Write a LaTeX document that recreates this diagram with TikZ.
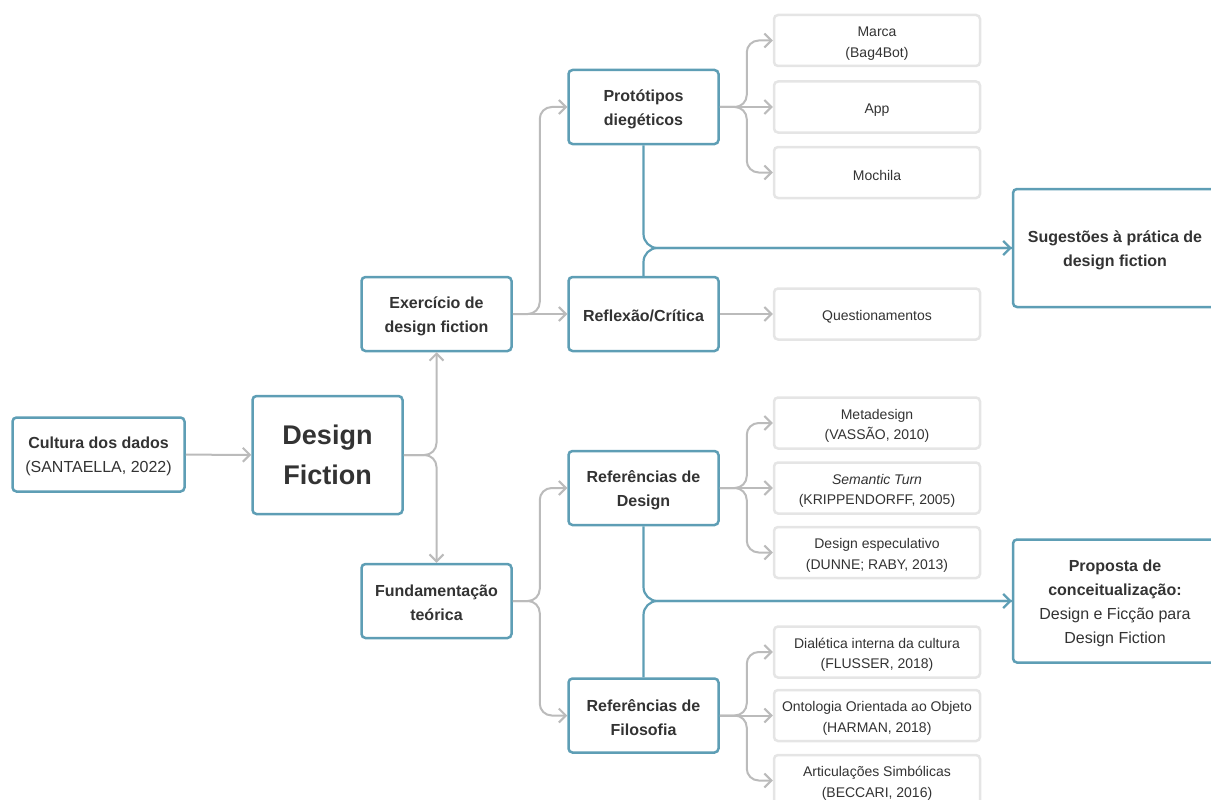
\documentclass[tikz,border=0pt]{standalone}
\usepackage{fontspec}
\setmainfont{Liberation Sans}
\usetikzlibrary{arrows.meta}
\definecolor{bl}{RGB}{94,158,181}
\definecolor{gr}{RGB}{187,187,187}
\definecolor{lg}{RGB}{229,229,229}
\definecolor{tx}{RGB}{51,51,51}
\newcommand{\tsx}{\rule{0pt}{16pt}}
\begin{document}
\begin{tikzpicture}[x=1pt,y=-1pt,
 bbox/.style={draw=bl, line width=2.5pt, rounded corners=4pt, fill=white, text=tx, align=center, minimum width=150pt, minimum height=74pt, inner sep=0pt, font=\fontsize{16}{24}\selectfont\bfseries},
 leaf/.style={draw=lg, line width=2.5pt, rounded corners=4pt, fill=white, text=tx, align=center, minimum width=206pt, minimum height=51pt, inner sep=0pt, font=\fontsize{14}{20.5}\selectfont},
 gconn/.style={draw=gr, line width=2pt, rounded corners=12pt, -{Straight Barb[length=7pt,width=14pt]}},
 bconn/.style={draw=bl, line width=2.2pt, rounded corners=14pt, -{Straight Barb[length=7pt,width=14pt]}},
]
\useasboundingbox (0,0) rectangle (1211,800);
% main nodes
\node[bbox, minimum width=172pt] (cul) at (98.5,454.5) {\tsx Cultura dos dados\\{\mdseries (SANTAELLA, 2022)}};
\node[bbox, minimum height=118pt, font=\fontsize{27}{40}\selectfont\bfseries] (df) at (327.5,455) {Design\\Fiction};
\node[bbox] (ex) at (436.5,314) {\tsx Exercício de\\design fiction};
\node[bbox] (fu) at (436.5,601) {\tsx Fundamentação\\teórica};
\node[bbox] (pr) at (643.5,107) {\tsx Protótipos\\diegéticos};
\node[bbox] (re) at (643.5,314) {\tsx Reflexão/Crítica};
\node[bbox] (rd) at (643.5,488) {\tsx Referências de\\Design};
\node[bbox] (rf) at (643.5,715.5) {\tsx Referências de\\Filosofia};
\node[bbox, minimum width=204pt, minimum height=118pt] (sug) at (1115,248) {\tsx Sugestões à prática de\\design fiction};
\node[bbox, minimum width=204pt, minimum height=123pt] (prop) at (1115,601) {\tsx Proposta de\\conceitualização:\\{\mdseries Design e Ficção para}\\{\mdseries Design Fiction}};
% leaves
\node[leaf] (ma) at (877,40.5) {\tsx Marca\\(Bag4Bot)};
\node[leaf] (ap) at (877,107) {\tsx App};
\node[leaf] (mo) at (877,172.5) {\tsx Mochila};
\node[leaf] (qu) at (877,314) {\tsx Questionamentos};
\node[leaf] (me) at (877,423) {\tsx Metadesign\\(VASSÃO, 2010)};
\node[leaf] (se) at (877,488) {\tsx\itshape Semantic Turn\\(KRIPPENDORFF, 2005)};
\node[leaf] (de) at (877,552.5) {\tsx Design especulativo\\(DUNNE; RABY, 2013)};
\node[leaf] (di) at (877,652) {\tsx Dialética interna da cultura\\(FLUSSER, 2018)};
\node[leaf] (on) at (877,715.5) {\tsx Ontologia Orientada ao Objeto\\(HARMAN, 2018)};
\node[leaf] (ar) at (877,780.5) {\tsx Articulações Simbólicas\\(BECCARI, 2016)};
% gray connectors
\draw[gconn] (cul) -- (df);
\draw[gconn] (df.east) -| (ex.south);
\draw[gconn] (df.east) -| (fu.north);
\draw[gconn] (ex.east) -- ++(27,0) |- (pr.west);
\draw[gconn] (ex) -- (re);
\draw[gconn] (fu.east) -- ++(27,0) |- (rd.west);
\draw[gconn] (fu.east) -- ++(27,0) |- (rf.west);
\draw[gconn] (pr.east) -- ++(27,0) |- (ma.west);
\draw[gconn] (pr) -- (ap);
\draw[gconn] (pr.east) -- ++(27,0) |- (mo.west);
\draw[gconn] (re) -- (qu);
\draw[gconn] (rd.east) -- ++(27,0) |- (me.west);
\draw[gconn] (rd) -- (se);
\draw[gconn] (rd.east) -- ++(27,0) |- (de.west);
\draw[gconn] (rf.east) -- ++(27,0) |- (di.west);
\draw[gconn] (rf) -- (on);
\draw[gconn] (rf.east) -- ++(27,0) |- (ar.west);
% blue connectors
\draw[bconn] (pr.south) |- (sug.west);
\draw[bconn, -] (re.north) |- (sug.west);
\draw[bconn] (rd.south) |- (prop.west);
\draw[bconn, -] (rf.north) |- (prop.west);
\end{tikzpicture}
\end{document}
